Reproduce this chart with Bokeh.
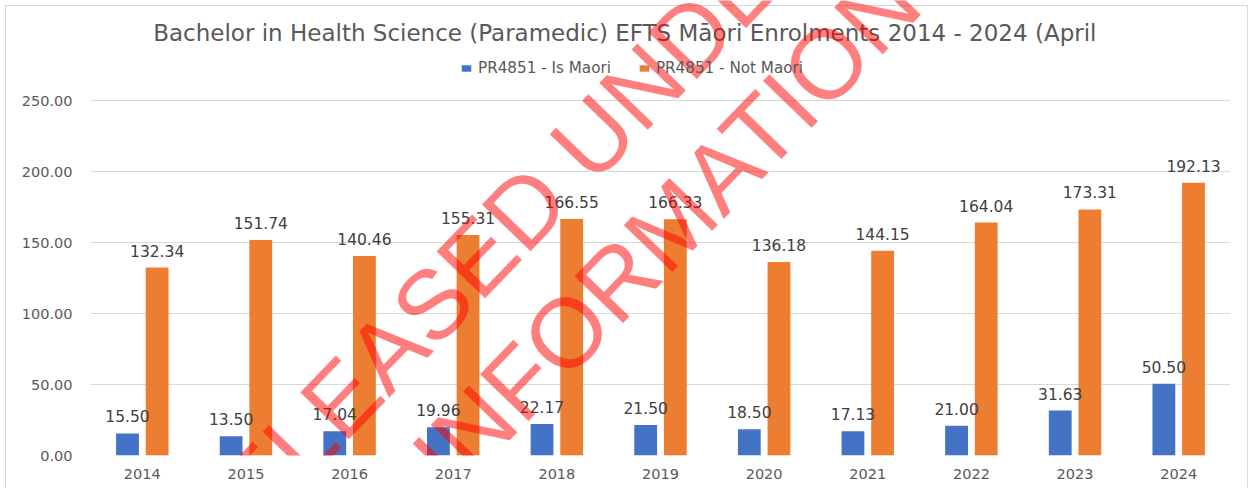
import math
from bokeh.plotting import figure
from bokeh.models import (ColumnDataSource, FactorRange, Range1d, FixedTicker,
                          NumeralTickFormatter, LabelSet, Label, Legend, LegendItem)
from bokeh.transform import dodge
from bokeh.core.properties import value
from bokeh.embed import file_html
from bokeh.resources import INLINE

# ---- data ----
years = ["2014", "2015", "2016", "2017", "2018", "2019", "2020", "2021", "2022", "2023", "2024"]
is_maori = [15.50, 13.50, 17.04, 19.96, 22.17, 21.50, 18.50, 17.13, 21.00, 31.63, 50.50]
not_maori = [132.34, 151.74, 140.46, 155.31, 166.55, 166.33, 136.18, 144.15, 164.04, 173.31, 192.13]
y_ticks = [0, 50, 100, 150, 200, 250]
series_names = ["PR4851 - Is Maori", "PR4851 - Not Maori"]
title_text = "Bachelor in Health Science (Paramedic) EFTS  M\u0101ori Enrolments 2014 - 2024 (April"
watermark_lines = ["RELEASED UNDER THE OFFICIAL", "INFORMATION ACT 1982"]

FONT = "DejaVu Sans"
GRAY = "#595959"

W, H = 1253, 488
FRAME_LEFT, FRAME_RIGHT, FRAME_BOTTOM = 90, 1230, 455   # canvas pixels
GRID_TOP_PX = 100                                         # pixel row of the top tick
y_top = y_ticks[-1] * FRAME_BOTTOM / (FRAME_BOTTOM - GRID_TOP_PX)

src = ColumnDataSource(dict(
    year=years, is_m=is_maori, not_m=not_maori,
    is_lbl=[f"{v:.2f}" for v in is_maori],
    not_lbl=[f"{v:.2f}" for v in not_maori],
))

p = figure(x_range=FactorRange(factors=years), y_range=Range1d(0, y_top),
           width=W, height=H, output_backend="svg", toolbar_location=None, title=None,
           min_border_left=FRAME_LEFT, min_border_right=W - FRAME_RIGHT,
           min_border_top=0, min_border_bottom=H - FRAME_BOTTOM)
p.outline_line_color = None
p.background_fill_color = None
p.border_fill_color = None
line = "linear-gradient(#d9d9d9,#d9d9d9)"
p.styles = {"background": (f"{line} 5px 5px / 1243px 1px no-repeat, "
                           f"{line} 5px 5px / 1px 483px no-repeat, "
                           f"{line} 1247px 5px / 1px 483px no-repeat, #ffffff")}

off = 0.143
bw = 0.22
r1 = p.vbar(x=dodge("year", -off, range=p.x_range), top="is_m", width=bw, source=src,
            fill_color="#4472C4", line_color=None)
r2 = p.vbar(x=dodge("year", off, range=p.x_range), top="not_m", width=bw, source=src,
            fill_color="#ED7D31", line_color=None)

for xoff, col, lbl in [(-off, "is_m", "is_lbl"), (off, "not_m", "not_lbl")]:
    p.add_layout(LabelSet(x=dodge("year", xoff, range=p.x_range), y=col, text=lbl, source=src,
                          text_align="center", text_baseline="alphabetic", y_offset=11,
                          text_font=value(FONT), text_font_size="15.5px", text_color="#404040"))

# axes / grid
p.xgrid.grid_line_color = None
p.ygrid.grid_line_color = "#d9d9d9"
p.ygrid.grid_line_width = 1
p.yaxis.ticker = FixedTicker(ticks=y_ticks)
p.yaxis.formatter = NumeralTickFormatter(format="0.00")
for ax in (p.xaxis, p.yaxis):
    ax.axis_line_color = None
    ax.major_tick_line_color = None
    ax.minor_tick_line_color = None
    ax.major_tick_out = 0
    ax.major_tick_in = 0
    ax.major_label_text_font = FONT
    ax.major_label_text_font_size = "14.5px"
    ax.major_label_text_color = GRAY
p.yaxis.major_label_standoff = 18
p.xaxis.major_label_standoff = 13

# legend (positions in pixels from the frame's bottom-left)
legend = Legend(items=[LegendItem(label=series_names[0], renderers=[r1]),
                       LegendItem(label=series_names[1], renderers=[r2])],
                orientation="horizontal", location=(460 - FRAME_LEFT, FRAME_BOTTOM - 77),
                padding=0, margin=0,
                spacing=27, glyph_width=12, glyph_height=8, label_standoff=6, label_height=16,
                label_text_font=FONT, label_text_font_size="15.2px", label_text_color=GRAY,
                background_fill_alpha=0, border_line_color=None)
p.add_layout(legend, "center")

# title
p.add_layout(Label(x=628 - FRAME_LEFT, y=FRAME_BOTTOM - 32, x_units="screen", y_units="screen",
                   text=title_text, text_align="center", text_baseline="middle",
                   text_font=FONT, text_font_size="23px", text_color=GRAY))

# watermark
ang = math.radians(46)
for (wx, wy), txt in zip([(186, 558), (430, 473)], watermark_lines):
    p.add_layout(Label(x=wx - FRAME_LEFT, y=FRAME_BOTTOM - wy, x_units="screen", y_units="screen",
                       text=txt, angle=ang, text_align="left", text_baseline="middle",
                       text_font="Liberation Sans", text_font_size="98px",
                       text_color="red", text_alpha=0.5))

open("out.html", "w").write(file_html(p, INLINE))
